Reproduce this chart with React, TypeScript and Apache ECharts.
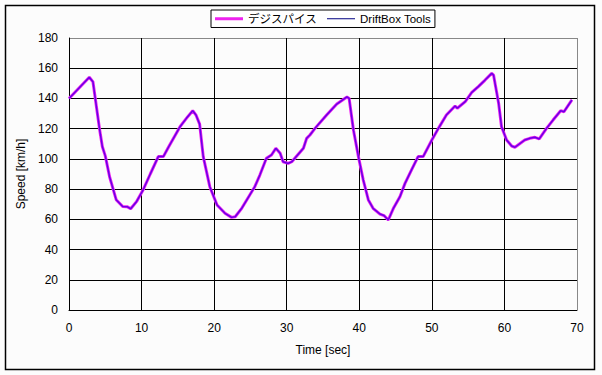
import React, { useEffect, useRef } from "react";
import * as echarts from "echarts";

const timeSec = [
  0, 2.8, 3.3, 4.2, 4.6, 5.0, 5.6, 6.5, 7.4, 8.0, 8.5, 9.3, 10.2, 11.2, 12.3, 13.0, 13.7, 15.3, 16.2, 17.05,
  17.5, 18.0, 18.5, 19.4, 20.4, 21.5, 22.4, 22.9, 23.8, 25.6, 26.3, 27.2, 27.9, 28.5, 29.1, 29.5, 30.2, 30.7,
  32.3, 32.75, 33.2, 33.9, 35.5, 36.9, 38.3, 38.6, 39.2, 39.9, 40.55, 41.25, 41.9, 42.85, 43.4, 44.0, 44.7,
  45.6, 46.3, 47.2, 48.1, 48.8, 50.0, 50.9, 52.0, 53.2, 53.5, 54.6, 55.5, 56.4, 57.3, 58.25, 58.5, 59.2, 59.6,
  60.3, 61.0, 61.45, 62.8, 63.5, 64.2, 64.8, 65.8, 66.7, 67.75, 68.2, 69.3,
];

const speedDigiSpice = [
  140, 154, 151, 120, 108, 102, 88, 73, 68.5, 68.4, 67, 71.7, 79.4, 90, 101.5, 101.5, 107.7, 121.3, 127, 131.9,
  129, 123, 101.5, 81.6, 69.5, 64, 61.3, 61.7, 67.3, 81.6, 89.3, 100.4, 102.6, 107, 103.7, 98.1, 97, 98.1,
  107, 113.6, 115.8, 120.2, 129, 136.3, 141, 140, 119, 101, 86, 72.8, 67.3, 63.5, 62.5, 59.6, 67.3,
  75, 83.8, 92.7, 101.5, 101.5, 112.5, 120.2, 129, 135, 133.5, 137.9, 144, 147.8, 152, 156.6, 155.5, 136.8, 121.3,
  112.5, 108.5, 107.7, 112.5, 113.6, 114.3, 113.2, 120.2, 125.7, 131.9, 131.2, 139,
];

const speedDriftBox = [
  140, 154, 151, 120, 108, 102, 88, 73, 68.5, 68.4, 67, 71.7, 79.4, 90, 101.5, 101.5, 107.7, 121.3, 127, 131.9,
  129, 123, 101.5, 81.6, 69.5, 64, 61.3, 61.7, 67.3, 81.6, 89.3, 100.4, 102.6, 107, 103.7, 98.1, 97, 98.1,
  107, 113.6, 115.8, 120.2, 129, 136.3, 141, 140, 119, 101, 86, 72.8, 67.3, 63.5, 62.5, 59.6, 67.3,
  75, 83.8, 92.7, 101.5, 101.5, 112.5, 120.2, 129, 135, 133.5, 137.9, 144, 147.8, 152, 156.6, 155.5, 136.8, 121.3,
  112.5, 108.5, 107.7, 112.5, 113.6, 114.3, 113.2, 120.2, 125.7, 131.9, 131.2, 139,
];

const seriesNames = ["デジスパイス", "DriftBox Tools"];

const FONT = "'Liberation Sans', 'Noto Sans CJK JP', sans-serif";

export default function App() {
  const ref = useRef<HTMLDivElement>(null);
  useEffect(() => {
    if (!ref.current) return;
    const chart = echarts.init(ref.current, undefined, { renderer: "svg" });
    const yLineColors = ["#000", "#000", "#000", "#000", "#000", "#000", "#000", "#000", "#000", "#888"];
    const xLineColors = ["#000", "#000", "#000", "#000", "#000", "#000", "#000", "#888"];
    chart.setOption({
      animation: false,
      backgroundColor: "#fcfcfc",
      textStyle: { fontFamily: FONT },
      graphic: [
        {
          type: "rect",
          shape: { x: 5.5, y: 5.5, width: 589, height: 364 },
          style: { fill: "none", stroke: "#000", lineWidth: 1.5 },
          silent: true,
        },
      ],
      legend: {
        left: 211,
        top: 10,
        padding: [3, 4, 3, 4],
        itemWidth: 28,
        itemHeight: 12,
        itemGap: 10,
        borderColor: "#000",
        borderWidth: 1,
        backgroundColor: "#ffffff",
        borderRadius: 0,
        textStyle: { fontFamily: FONT, fontSize: 11.5, color: "#000" },
        data: [
          {
            name: seriesNames[0],
            icon: "path://M0,0 L28,0 L28,3 L0,3 Z",
            itemStyle: { color: "#ee22ee", borderWidth: 0 },
          },
          {
            name: seriesNames[1],
            icon: "path://M0,0 L28,0 L28,1 L0,1 Z",
            itemStyle: { color: "#000080", borderWidth: 0 },
          },
        ],
      },
      grid: { left: 69, top: 38, right: 25, bottom: 65 },
      xAxis: {
        type: "value",
        min: 0,
        max: 70,
        interval: 10,
        name: "Time [sec]",
        nameLocation: "middle",
        nameGap: 34,
        nameTextStyle: { fontFamily: FONT, fontSize: 12, color: "#000" },
        axisLine: { show: true, lineStyle: { color: "#000", width: 1 } },
        axisTick: { show: false },
        axisLabel: { margin: 12, fontFamily: FONT, fontSize: 12, color: "#000" },
        splitLine: { show: true, lineStyle: { color: xLineColors, width: 1 } },
      },
      yAxis: {
        type: "value",
        min: 0,
        max: 180,
        interval: 20,
        name: "Speed [km/h]",
        nameLocation: "middle",
        nameGap: 29,
        nameTextStyle: { fontFamily: FONT, fontSize: 12, color: "#000" },
        axisLine: { show: true, lineStyle: { color: "#000", width: 1 } },
        axisTick: { show: false },
        axisLabel: { margin: 11, fontFamily: FONT, fontSize: 12, color: "#000" },
        splitLine: { show: true, lineStyle: { color: yLineColors, width: 1 } },
      },
      series: [
        {
          name: seriesNames[0],
          type: "line",
          symbol: "none",
          color: "#ee22ee",
          lineStyle: { color: "#ee22ee", width: 3 },
          data: timeSec.map((t, i) => [t, speedDigiSpice[i]]),
          z: 2,
        },
        {
          name: seriesNames[1],
          type: "line",
          symbol: "none",
          color: "#000080",
          lineStyle: { color: "#6a00e8", width: 1.5 },
          data: timeSec.map((t, i) => [t, speedDriftBox[i]]),
          z: 3,
        },
      ],
    });
    return () => chart.dispose();
  }, []);
  return (
    <div
      ref={ref}
      style={{ position: "fixed", left: 0, top: 0, width: 602, height: 375 }}
    />
  );
}
